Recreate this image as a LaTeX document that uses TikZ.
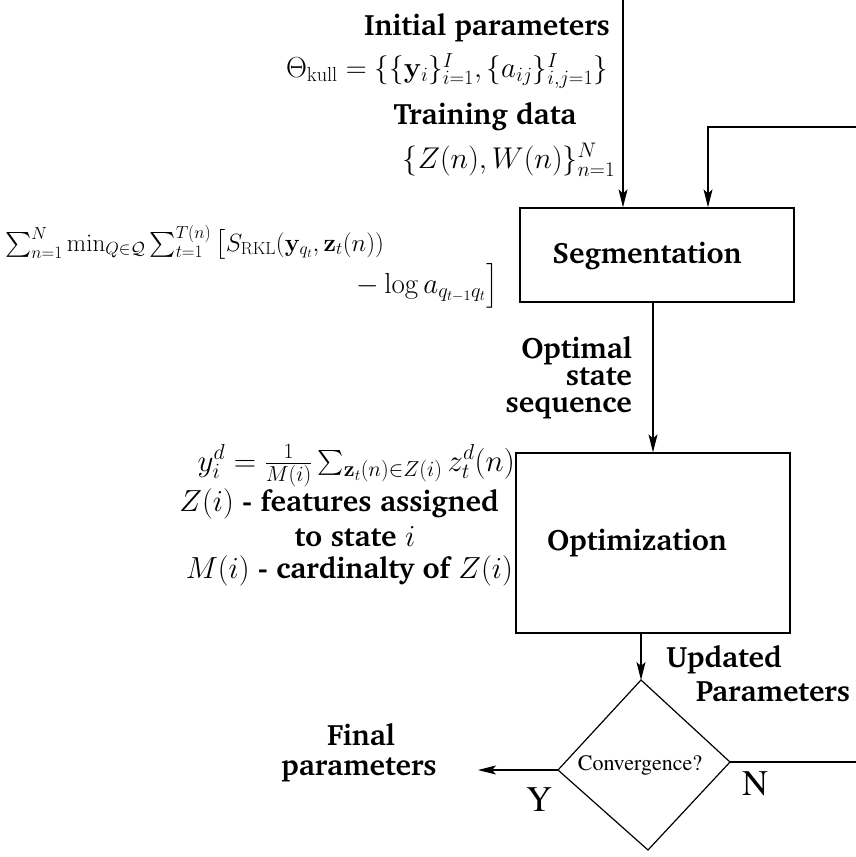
\RequirePackage{fix-cm}
\documentclass[tikz,border=0pt]{standalone}
\usepackage[T1]{fontenc}
\usepackage{charter}
\usepackage{amsmath}
\usetikzlibrary{arrows.meta}
\newcommand{\bigmath}[1]{{\fontsize{30.5}{30}\selectfont$#1$}}
\tikzset{
  lbl/.style={font=\fontsize{29.5}{29}\selectfont\bfseries, inner sep=0pt},
  mthA/.style={font=\fontsize{25}{26}\selectfont, inner sep=0pt},
  mthB/.style={font=\fontsize{29}{30}\selectfont, inner sep=0pt},
  mthC/.style={font=\fontsize{30}{31}\selectfont, inner sep=0pt},
  mthD/.style={font=\fontsize{31}{32}\selectfont, inner sep=0pt},
  blk/.style={draw, line width=1.2pt, inner sep=0pt},
  ln/.style={line width=1.2pt},
  arr/.style={line width=1.2pt, -{Stealth[length=18pt,width=9pt,inset=4pt]}},
  tms/.style={font=\fontfamily{ptm}\fontsize{22}{24}\selectfont, inner sep=0pt},
  tmsbig/.style={font=\fontfamily{ptm}\fontsize{36}{38}\selectfont, inner sep=0pt},
}
\begin{document}
\begin{tikzpicture}[x=1pt,y=-1pt]
\useasboundingbox (0,0) rectangle (856,857);
% blocks
\node[blk, minimum width=274pt, minimum height=94pt] (seg) at (657,255) {};
\node[blk, minimum width=274pt, minimum height=180pt] (opt) at (653,543) {};
\node[lbl] (segl) at (647,256) {Segmentation};
\node[lbl] (optl) at (637,543) {Optimization};
% decision diamond
\coordinate (dT) at (641,680);
\coordinate (dR) at (730,762);
\coordinate (dB) at (648,850);
\coordinate (dL) at (558,770);
\draw[ln] (dT) -- (dR) -- (dB) -- (dL) -- cycle;
\node[tms] (conv) at (640,765) {Convergence?};
% free ends
\coordinate (topin) at (623,0);
\coordinate (fbR) at (856,127);
\coordinate (fbL) at (708,127);
\coordinate (mid) at (653,0);
\coordinate (yend) at (478,770);
\coordinate (nend) at (856,762);
% connectors
\draw[arr] (topin) -- (topin |- seg.north);
\draw[arr] (fbR) -- (fbL) -- (fbL |- seg.north);
\draw[arr] (mid |- seg.south) -- (mid |- opt.north);
\draw[arr] (dT |- opt.south) -- (dT);
\draw[arr] (dL) -- (yend);
\draw[ln] (dR) -- (nend);
% labels
\node[lbl] (init) at (487,27) {Initial parameters};
\node[mthB] (theta) at (447,71) {$\Theta_{\mathrm{kull}}=\{\{\mathbf{y}_i\}_{i=1}^{I},\{a_{ij}\}_{i,j=1}^{I}\}$};
\node[lbl] (train) at (485,116) {Training data};
\node[mthC] (data) at (509,160) {$\{Z(n),W(n)\}_{n=1}^{N}$};
\node[mthA, anchor=base west] (obj1) at (5,251) {$\sum_{n=1}^{N}\min_{Q\in\mathcal{Q}}\sum_{t=1}^{T(n)}\big[S_{\mathrm{RKL}}(\mathbf{y}_{q_t},\mathbf{z}_t(n))$};
\node[mthB, anchor=base east] (obj2) at (498,293) {$-\log a_{q_{t-1}q_t}\big]$};
\node[lbl, align=right, anchor=east, font=\fontsize{29.5}{27}\selectfont\bfseries] (oss) at (632,377) {Optimal\\state\\sequence};
\node[mthD, anchor=east] (upd) at (515,466) {$y_i^d=\frac{1}{M(i)}\sum_{\mathbf{z}_t(n)\in Z(i)} z_t^d(n)$};
\node[lbl] (zi) at (339,504) {\bigmath{Z(i)} - features assigned};
\node[lbl] (st) at (355,537) {to state \bigmath{i}};
\node[lbl, anchor=east] (mi) at (513,571) {\bigmath{M(i)} - cardinalty of \bigmath{Z(i)}};
\node[lbl] (updt) at (724,659) {Updated};
\node[lbl] (updp) at (773,692) {Parameters};
\node[lbl] (fin1) at (361,735) {Final};
\node[lbl] (fin2) at (359,770) {parameters};
\node[tmsbig] (ylab) at (539,800) {Y};
\node[tmsbig] (nlab) at (755,784) {N};
\end{tikzpicture}
\end{document}
